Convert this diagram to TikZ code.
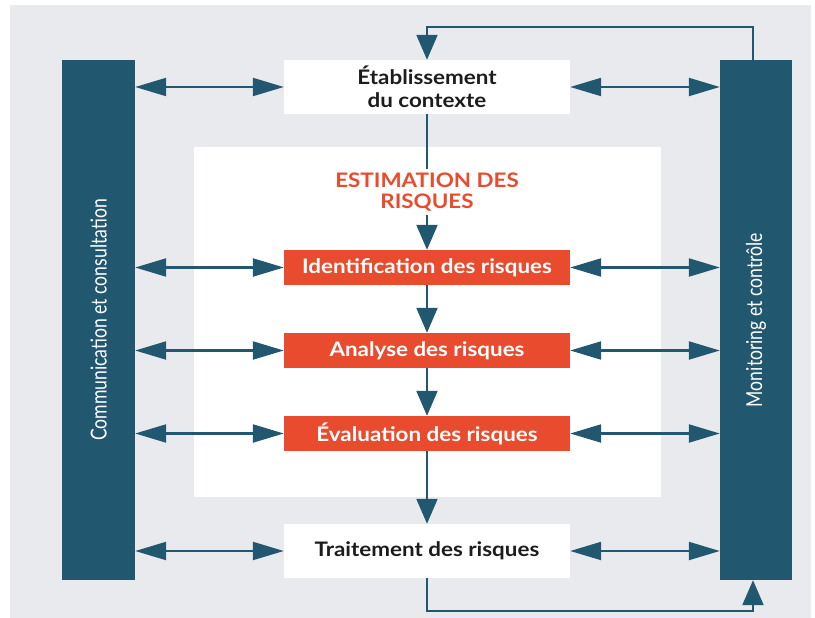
\documentclass[tikz,border=0pt]{standalone}
\usepackage{fontspec}
\setmainfont{Lato}[FakeStretch=1.12]
\newfontfamily\condfont{Lato}[FakeStretch=0.8]
\usetikzlibrary{arrows.meta}

\definecolor{riskteal}{HTML}{22586F}
\definecolor{riskorange}{HTML}{E84B2D}
\definecolor{riskgray}{HTML}{E9EAEE}
\definecolor{riskink}{HTML}{1C1C1C}

\begin{document}
\begin{tikzpicture}[x=1pt,y=-1pt,
  bar/.style={fill=riskteal, draw=none, minimum width=73pt, minimum height=520pt, inner sep=0pt},
  barlabel/.style={rotate=90, text=white, font=\condfont\fontsize{22}{26}\selectfont},
  whitebox/.style={fill=white, minimum width=286pt, minimum height=54pt, inner sep=0pt,
    text=riskink, align=center, font=\bfseries\fontsize{20}{23}\selectfont},
  stepbox/.style={fill=riskorange, minimum width=286pt, minimum height=35pt, inner sep=0pt,
    text=white, font=\bfseries\fontsize{20}{22}\selectfont},
  link/.style={draw=riskteal, line width=2.2pt},
  dbl/.style={link, {Triangle[length=31pt,width=18pt]}-{Triangle[length=31pt,width=18pt]}},
  down/.style={link, -{Triangle[length=25pt,width=21pt]}},
]
% page and grey backdrop
\useasboundingbox (0,0) rectangle (815,618);
\fill[riskgray] (10,5) rectangle (811,618);

% white panel holding the risk estimation steps
\node[fill=white, minimum width=467pt, minimum height=350pt, inner sep=0pt] (panel) at (427.5,322) {};

% side bars
\node[bar] (comm) at (98.5,320) {};
\node[barlabel] (commlabel) at (comm) {Communication et consultation};
\node[bar, minimum width=72pt] (mon) at (756,320) {};
\node[barlabel] (monlabel) at (mon) {Monitoring et contrôle};

% process boxes
\node[whitebox] (ctx) at (427,87) {Établissement\\du contexte};
\node[text=riskorange, align=center, font=\bfseries\fontsize{20}{21}\selectfont] (est) at (427,192) {ESTIMATION DES\\RISQUES};
\node[stepbox] (ident) at (427,267.5) {Identification des risques};
\node[stepbox] (anal) at (427,350.5) {Analyse des risques};
\node[stepbox] (eval) at (427,433.5) {Évaluation des risques};
\node[whitebox] (treat) at (427,551) {Traitement des risques};

% main flow
\draw[link] (ctx.south) -- (est.north);
\draw[down] (est.south) -- (ident.north);
\draw[down] (ident.south) -- (anal.north);
\draw[down] (anal.south) -- (eval.north);
\draw[down] (eval.south) -- (treat.north);

% exchanges with both side bars
\foreach \b in {ctx,ident,anal,eval,treat}{
  \draw[dbl] (comm.east |- \b.west) -- (\b.west);
  \draw[dbl] (\b.east) -- (mon.west |- \b.east);
}

% feedback loops
\coordinate (topR) at (753,27);
\coordinate (botR) at (753,611);
\draw[down] (mon.north -| topR) -- (topR) -- (topR -| ctx.north) -- (ctx.north);
\draw[down] (treat.south) -- (treat.south |- botR) -- (botR) -- (mon.south -| botR);
\end{tikzpicture}
\end{document}
